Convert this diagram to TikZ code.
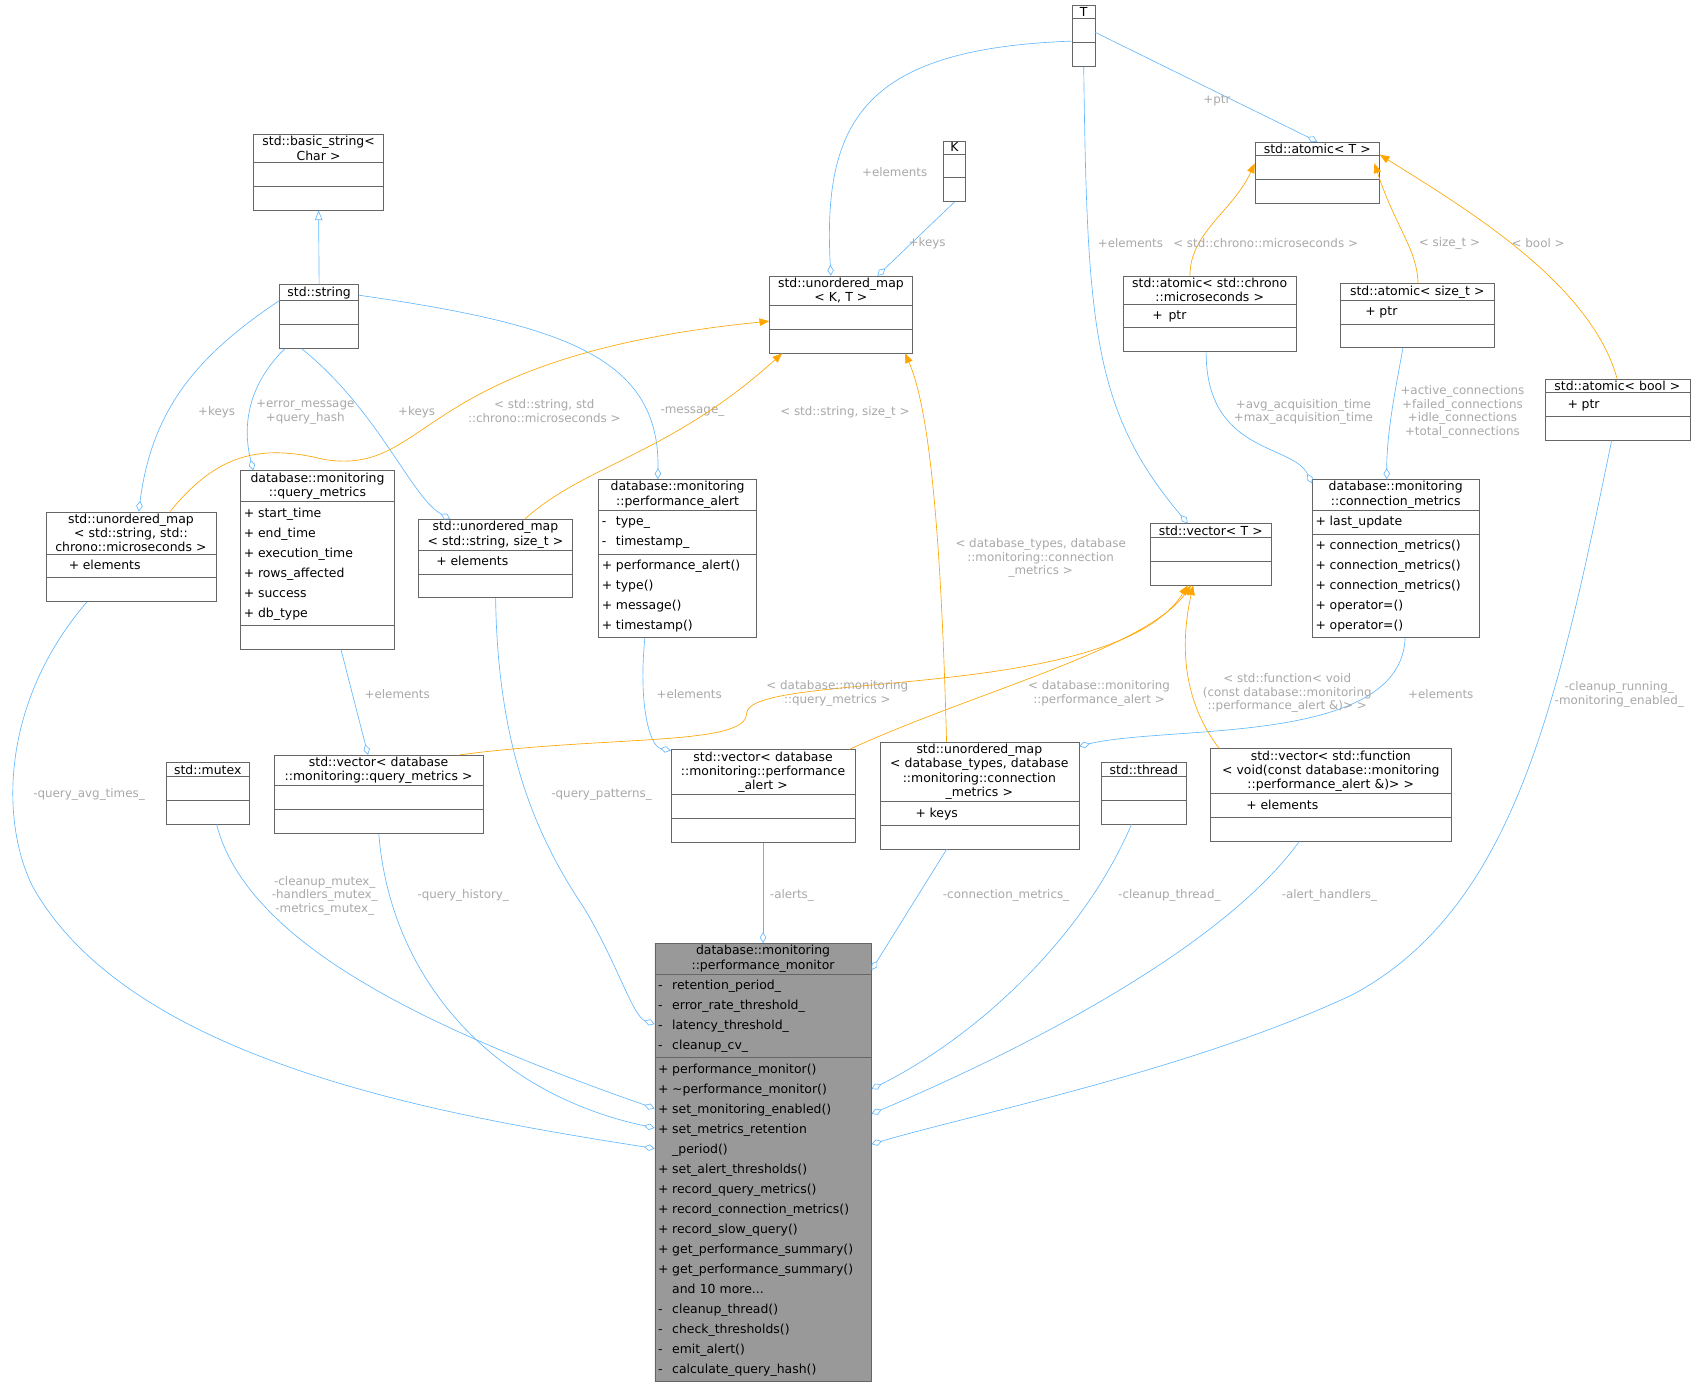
\documentclass[tikz,border=0pt]{standalone}
\usepackage{fontspec}
\setmainfont{DejaVu Sans}
\usetikzlibrary{arrows.meta,shapes.multipart,positioning}
\definecolor{aggblue}{HTML}{63B8FF}
\definecolor{tmplorange}{HTML}{FFA500}
\definecolor{boxline}{HTML}{666666}
\definecolor{mainfill}{HTML}{999999}
\definecolor{lblgray}{HTML}{A8A8A8}
% class box helpers
\newcommand{\ttl}[1]{{\centering\fontsize{11.5}{13.2}\selectfont #1\par}}
\newcommand{\mb}[2]{\strut\makebox[13pt][l]{#1}#2}
\newcommand{\emp}{\strut}
\begin{document}
\begin{tikzpicture}[x=1pt,y=-1pt,
    cls/.style={rectangle split,rectangle split parts=3,draw=boxline,fill=white,
      anchor=north west,align=left,inner xsep=3pt,inner ysep=1.5pt,text width=#1-6pt,
      font=\fontsize{11.5}{18.5}\selectfont},
    agg/.style={draw=aggblue,-{Diamond[open,length=10pt,width=6pt]}},
    inh/.style={draw=aggblue,-{Triangle[open,length=9pt,width=7pt]}},
    tpl/.style={draw=tmplorange,-{Triangle[length=9pt,width=7pt]}},
    lbl/.style={text=lblgray,font=\fontsize{11}{12.5}\selectfont,align=center},
    semithick]

  % class boxes
  \node[cls=21pt] (T) at (991,5) {\ttl{T}\nodepart{two}\emp\nodepart{three}\emp};
  \node[cls=20pt] (K) at (872,130) {\ttl{K}\nodepart{two}\emp\nodepart{three}\emp};
  \node[cls=120pt] (bstr) at (234,124) {\ttl{std::basic\_string<\\Char >}\nodepart{two}\emp\nodepart{three}\emp};
  \node[cls=73pt] (str) at (258,263) {\ttl{std::string}\nodepart{two}\emp\nodepart{three}\emp};
  \node[cls=132pt] (umapKT) at (711,255) {\ttl{std::unordered\_map\\< K, T >}\nodepart{two}\emp\nodepart{three}\emp};
  \node[cls=115pt] (atomT) at (1160,131) {\ttl{std::atomic< T >}\nodepart{two}\emp\nodepart{three}\emp};
  \node[cls=160pt] (atomChr) at (1038,255) {\ttl{std::atomic< std::chrono\\::microseconds >}\nodepart{two}\mb{\hspace{24pt}+}{\hspace{26pt}ptr}\nodepart{three}\emp};
  \node[cls=142pt] (atomSz) at (1239,262) {\ttl{std::atomic< size\_t >}\nodepart{two}\mb{\hspace{20pt}+}{\hspace{20pt}ptr}\nodepart{three}\emp};
  \node[cls=134pt] (atomB) at (1428,350) {\ttl{std::atomic< bool >}\nodepart{two}\mb{\hspace{18pt}+}{\hspace{18pt}ptr}\nodepart{three}\emp};
  \node[cls=157pt] (umapSC) at (42,473) {\ttl{std::unordered\_map\\< std::string, std::\\chrono::microseconds >}\nodepart{two}\mb{\hspace{18pt}+}{\hspace{18pt}elements}\nodepart{three}\emp};
  \node[cls=142pt] (qm) at (222,435) {\ttl{database::monitoring\\::query\_metrics}\nodepart{two}\mb{+}{start\_time}\\\mb{+}{end\_time}\\\mb{+}{execution\_time}\\\mb{+}{rows\_affected}\\\mb{+}{success}\\\mb{+}{db\_type}\nodepart{three}\emp};
  \node[cls=143pt] (umapSS) at (386,480) {\ttl{std::unordered\_map\\< std::string, size\_t >}\nodepart{two}\mb{\hspace{14pt}+}{\hspace{14pt}elements}\nodepart{three}\emp};
  \node[cls=146pt] (pa) at (553,443) {\ttl{database::monitoring\\::performance\_alert}\nodepart{two}\mb{-}{type\_}\\\mb{-}{timestamp\_}\nodepart{three}\mb{+}{performance\_alert()}\\\mb{+}{type()}\\\mb{+}{message()}\\\mb{+}{timestamp()}};
  \node[cls=112pt] (vecT) at (1063,484) {\ttl{std::vector< T >}\nodepart{two}\emp\nodepart{three}\emp};
  \node[cls=154pt] (conn) at (1213,443) {\ttl{database::monitoring\\::connection\_metrics}\nodepart{two}\mb{+}{last\_update}\nodepart{three}\mb{+}{connection\_metrics()}\\\mb{+}{connection\_metrics()}\\\mb{+}{connection\_metrics()}\\\mb{+}{operator=()}\\\mb{+}{operator=()}};
  \node[cls=77pt] (mtx) at (153,705) {\ttl{std::mutex}\nodepart{two}\emp\nodepart{three}\emp};
  \node[cls=193pt] (vqm) at (253,698) {\ttl{std::vector< database\\::monitoring::query\_metrics >}\nodepart{two}\emp\nodepart{three}\emp};
  \node[cls=170pt] (vpa) at (620,693) {\ttl{std::vector< database\\::monitoring::performance\\\_alert >}\nodepart{two}\emp\nodepart{three}\emp};
  \node[cls=184pt] (udb) at (813,686) {\ttl{std::unordered\_map\\< database\_types, database\\::monitoring::connection\\\_metrics >}\nodepart{two}\mb{\hspace{30pt}+}{\hspace{30pt}keys}\nodepart{three}\emp};
  \node[cls=78pt] (thr) at (1018,705) {\ttl{std::thread}\nodepart{two}\emp\nodepart{three}\emp};
  \node[cls=222pt] (vfn) at (1119,692) {\ttl{std::vector< std::function\\< void(const database::monitoring\\::performance\_alert \&)> >}\nodepart{two}\mb{\hspace{30pt}+}{\hspace{30pt}elements}\nodepart{three}\emp};
  \node[cls=200pt,fill=mainfill] (main) at (605,872) {\ttl{database::monitoring\\::performance\_monitor}\nodepart{two}\mb{-}{retention\_period\_}\\\mb{-}{error\_rate\_threshold\_}\\\mb{-}{latency\_threshold\_}\\\mb{-}{cleanup\_cv\_}\nodepart{three}\mb{+}{performance\_monitor()}\\\mb{+}{\textasciitilde performance\_monitor()}\\\mb{+}{set\_monitoring\_enabled()}\\\mb{+}{set\_metrics\_retention}\\\mb{}{\_period()}\\\mb{+}{set\_alert\_thresholds()}\\\mb{+}{record\_query\_metrics()}\\\mb{+}{record\_connection\_metrics()}\\\mb{+}{record\_slow\_query()}\\\mb{+}{get\_performance\_summary()}\\\mb{+}{get\_performance\_summary()}\\\mb{}{and 10 more...}\\\mb{-}{cleanup\_thread()}\\\mb{-}{check\_thresholds()}\\\mb{-}{emit\_alert()}\\\mb{-}{calculate\_query\_hash()}};

  % template parameter members
  \draw[agg] ([yshift=-33pt]T.north west) .. controls (800,45) and (760,110) .. ([xshift=57pt]umapKT.north west) node[lbl,at={(827,159)}] {+elements};
  \draw[agg] (K.south) -- ([xshift=100pt]umapKT.north west) node[lbl,at={(857,225)}] {+keys};
  \draw[agg] ([yshift=-25pt]T.north east) -- (atomT.north) node[lbl,at={(1125,93)}] {+ptr};
  \draw[agg] (T.south) .. controls (1005,300) and (1010,380) .. ([xshift=35pt]vecT.north west) node[lbl,at={(1045,225)}] {+elements};
  \draw[inh] (str.north) -- (bstr.south);
  \draw[agg] ([yshift=-15pt]str.north west) .. controls (180,330) and (140,380) .. ([xshift=86pt]umapSC.north west) node[lbl,at={(200,381)}] {+keys};
  \draw[agg] ([xshift=5pt]str.south west) .. controls (225,360) and (225,400) .. ([xshift=12pt]qm.north west) node[lbl,at={(282,381)}] {+error\_message\\+query\_hash};
  \draw[agg] ([xshift=-16pt]str.south) .. controls (350,380) and (380,460) .. ([xshift=30pt]umapSS.north west) node[lbl,at={(385,381)}] {+keys};
  \draw[agg] ([yshift=-10pt]str.north east) .. controls (520,300) and (610,330) .. ([xshift=55pt]pa.north west) node[lbl,at={(640,381)}] {-message\_};
  \draw[agg] ([xshift=77pt]atomChr.south west) .. controls (1115,420) and (1195,410) .. ([yshift=-4pt]conn.north west) node[lbl,at={(1205,381)}] {+avg\_acquisition\_time\\+max\_acquisition\_time};
  \draw[agg] ([xshift=58pt]atomSz.south west) .. controls (1290,360) and (1282,400) .. ([xshift=69pt]conn.north west) node[lbl,at={(1352,381)}] {+active\_connections\\+failed\_connections\\+idle\_connections\\+total\_connections};
  \draw[agg] ([xshift=93pt]qm.south west) -- ([xshift=87pt]vqm.north west) node[lbl,at={(367,642)}] {+elements};
  \draw[agg] ([xshift=43pt]pa.south west) .. controls (590,650) and (600,690) .. ([yshift=-1pt]vpa.north west) node[lbl,at={(637,642)}] {+elements};
  \draw[agg] ([xshift=86pt]conn.south west) .. controls (1295,690) and (1080,670) .. ([yshift=-4pt]udb.north east) node[lbl,at={(1332,642)}] {+elements};

  % template instances
  \draw[tpl] ([xshift=62pt]atomChr.north west) .. controls (1100,215) and (1140,195) .. ([yshift=-20pt]atomT.north west) node[lbl,at={(1170,225)}] {< std::chrono::microseconds >};
  \draw[tpl] ([xshift=72pt]atomSz.north west) .. controls (1310,230) and (1290,210) .. ([yshift=-20pt,xshift=-5pt]atomT.north east) node[lbl,at={(1340,225)}] {< size\_t >};
  \draw[tpl] ([xshift=67pt]atomB.north west) .. controls (1470,260) and (1350,190) .. ([yshift=-12pt]atomT.north east) node[lbl,at={(1422,225)}] {< bool >};
  \draw[tpl] ([xshift=115pt]umapSC.north west) .. controls (200,420) and (240,410) .. (300,425) .. controls (400,440) and (380,330) .. ([yshift=-42pt]umapKT.north west) node[lbl,at={(503,380)}] {< std::string, std\\::chrono::microseconds >};
  \draw[tpl] ([xshift=99pt]umapSS.north west) .. controls (540,430) and (620,420) .. ([xshift=12pt]umapKT.south west) node[lbl,at={(781,381)}] {< std::string, size\_t >};
  \draw[tpl] ([xshift=62pt]udb.north west) .. controls (870,500) and (860,380) .. ([xshift=-7pt]umapKT.south east) node[lbl,at={(962,516)}] {< database\_types, database\\::monitoring::connection\\\_metrics >};
  \draw[tpl] ([xshift=172pt]vqm.north west) .. controls (560,680) and (690,690) .. (690,660) .. controls (690,620) and (1030,650) .. ([xshift=35pt]vecT.south west) node[lbl,at={(774,641)}] {< database::monitoring\\::query\_metrics >};
  \draw[tpl] ([xshift=165pt]vpa.north west) .. controls (900,640) and (1060,600) .. ([xshift=38pt]vecT.south west) node[lbl,at={(1016,641)}] {< database::monitoring\\::performance\_alert >};
  \draw[tpl] ([xshift=8pt]vfn.north west) .. controls (1095,650) and (1090,600) .. ([xshift=40pt]vecT.south west) node[lbl,at={(1190,641)}] {< std::function< void\\(const database::monitoring\\::performance\_alert \&)> >};

  % members of the monitor
  \draw[agg] ([xshift=38pt]umapSC.south west) .. controls (0,650) and (0,760) .. (30,820) .. controls (120,980) and (400,1030) .. ([yshift=-190pt]main.north west) node[lbl,at={(82,735)}] {-query\_avg\_times\_};
  \draw[agg] ([xshift=47pt]mtx.south west) .. controls (230,880) and (420,960) .. ([yshift=-153pt]main.north west) node[lbl,at={(300,828)}] {-cleanup\_mutex\_\\-handlers\_mutex\_\\-metrics\_mutex\_};
  \draw[agg] ([xshift=97pt]vqm.south west) .. controls (360,900) and (450,1010) .. ([yshift=-171pt]main.north west) node[lbl,at={(428,828)}] {-query\_history\_};
  \draw[agg] ([xshift=72pt]umapSS.south west) .. controls (460,700) and (500,780) .. (540,840) .. controls (570,890) and (585,940) .. ([yshift=-75pt]main.north west) node[lbl,at={(556,735)}] {-query\_patterns\_};
  \draw[agg] (vpa.south) -- (main.north) node[lbl,at={(732,828)}] {-alerts\_};
  \draw[agg] ([xshift=62pt]udb.south west) -- ([yshift=-25pt]main.north east) node[lbl,at={(930,828)}] {-connection\_metrics\_};
  \draw[agg] ([xshift=28pt]thr.south west) .. controls (1000,870) and (900,960) .. ([yshift=-135pt]main.north east) node[lbl,at={(1081,828)}] {-cleanup\_thread\_};
  \draw[agg] ([xshift=82pt]vfn.south west) .. controls (1120,890) and (900,990) .. ([yshift=-158pt]main.north east) node[lbl,at={(1229,828)}] {-alert\_handlers\_};
  \draw[agg] ([xshift=62pt]atomB.south west) .. controls (1440,650) and (1400,840) .. (1250,920) .. controls (1100,990) and (900,1030) .. ([yshift=-186pt]main.north east) node[lbl,at={(1497,642)}] {-cleanup\_running\_\\-monitoring\_enabled\_};

  \useasboundingbox (0,0) rectangle (1568,1280);
\end{tikzpicture}
\end{document}
